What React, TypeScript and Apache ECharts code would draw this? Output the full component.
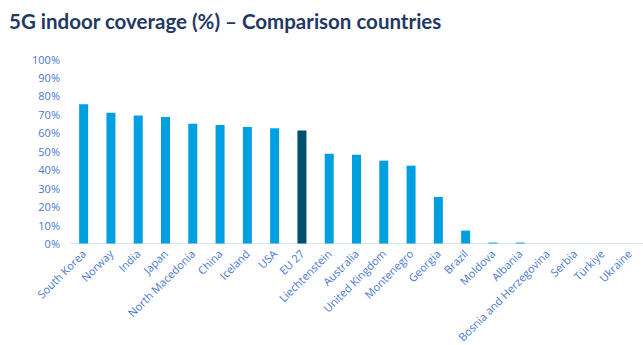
import React, { useEffect, useRef } from "react";
import * as echarts from "echarts";

const categories = [
  "South Korea", "Norway", "India", "Japan", "North Macedonia", "China", "Iceland", "USA", "EU 27",
  "Liechtenstein", "Australia", "United Kingdom", "Montenegro", "Georgia", "Brazil", "Moldova",
  "Albania", "Bosnia and Herzegovina", "Serbia", "Türkiye", "Ukraine",
];
const values = [75.5, 70.8, 69.4, 68.5, 64.9, 64.2, 63.2, 62.5, 61.3, 48.6, 48.1, 44.9, 42.2, 25.2, 7.0, 0.5, 0.5, 0, 0, 0, 0];
const highlight = "EU 27";
const yTicks = [0, 10, 20, 30, 40, 50, 60, 70, 80, 90, 100];

export default function App() {
  const ref = useRef<HTMLDivElement>(null);
  useEffect(() => {
    if (!ref.current) return;
    const chart = echarts.init(ref.current, undefined, { renderer: "svg" });
    const labelColor = "#4A78CC";
    chart.setOption({
      animation: false,
      backgroundColor: "#ffffff",
      title: {
        text: "5G indoor coverage (%) – Comparison countries",
        left: 4,
        top: 5,
        textStyle: { fontFamily: "Lato", fontWeight: "bold", fontSize: 20.5, color: "#1F3864" },
      },
      grid: { left: 70, right: -2, top: 59, bottom: 101, containLabel: false },
      xAxis: {
        type: "category",
        data: categories,
        axisLine: { lineStyle: { color: "#D6E2F3", width: 1 } },
        axisTick: { show: false },
        axisLabel: {
          interval: 0,
          rotate: 45,
          fontSize: 11,
          color: labelColor,
          fontFamily: "Open Sans",
          margin: 8,
        },
      },
      yAxis: {
        type: "value",
        min: yTicks[0],
        max: yTicks[yTicks.length - 1],
        interval: 10,
        splitLine: { show: false },
        axisLine: { show: false },
        axisTick: { show: false },
        axisLabel: {
          formatter: (v: number) => v + "%",
          fontSize: 11,
          color: labelColor,
          fontFamily: "Open Sans",
          margin: 10,
        },
      },
      series: [
        {
          type: "bar",
          data: values.map((v, i) => ({
            value: v,
            itemStyle: { color: categories[i] === highlight ? "#004F6E" : "#009FDF" },
          })),
          barCategoryGap: "67%",
        },
      ],
    });
    return () => chart.dispose();
  }, []);
  return <div ref={ref} style={{ position: "fixed", left: 0, top: 0, width: 643, height: 345 }} />;
}
